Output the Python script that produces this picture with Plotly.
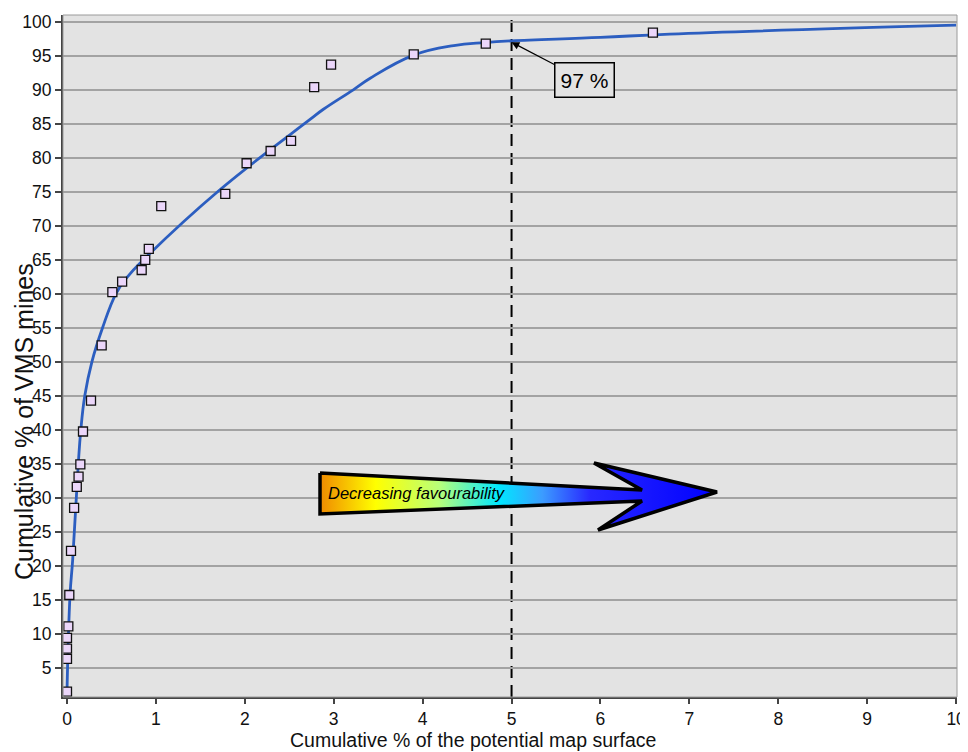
import plotly.graph_objects as go

# ---- data ----
mines_x = [0.0, 0.0, 0.0, 0.0, 0.015, 0.026, 0.045, 0.08, 0.11, 0.13, 0.15, 0.18,
           0.27, 0.39, 0.51, 0.62, 0.84, 0.88, 0.92, 1.06, 1.78, 2.02, 2.29, 2.52,
           2.78, 2.97, 3.90, 4.71, 6.59]
mines_y = [1.5, 6.3, 7.8, 9.4, 11.1, 15.7, 22.2, 28.5, 31.6, 33.1, 34.9, 39.75,
           44.3, 52.4, 60.25, 61.8, 63.5, 65.0, 66.6, 72.9, 74.7, 79.2, 81.0, 82.5,
           90.4, 93.7, 95.2, 96.8, 98.4]

curve_x = [0.0, 0.034, 0.064, 0.127, 0.154, 0.20, 0.28, 0.40, 0.55, 0.68, 0.86, 1.72,
           2.73, 2.88, 3.22, 3.41, 3.9, 4.35, 4.7, 5.0, 6.0, 6.78, 10.0]
curve_y = [1.5, 15.7, 20.9, 35.0, 39.75, 45.0, 50.0, 55.0, 60.0, 62.5, 65.0, 75.3,
           85.6, 87.1, 90.0, 91.7, 95.1, 96.5, 96.95, 97.2, 97.7, 98.2, 99.5]

x_ticks = [0, 1, 2, 3, 4, 5, 6, 7, 8, 9, 10]
y_ticks = list(range(5, 101, 5))

threshold_x = 5
threshold_y = 97
threshold_label = "97 %"
arrow_label = "Decreasing favourability"
x_title = "Cumulative % of the potential map surface"
y_title = "Cumulative % of VMS mines"

# decorative arrow outline, in an overlay frame measured in page pixels
arrow_px_x = [320, 642, 594, 717, 598, 642, 320, 320]
arrow_px_y = [473, 490, 463, 492, 530, 501, 514, 473]

# the page adds an 8px body margin; figure is sized to compensate
PAGE_OFF = 8
W, H = 968 - PAGE_OFF, 752 - PAGE_OFF
PL, PR, PT, PB = 63, 957, 15, 697          # plot area in page pixels
L, R, T, B = PL - PAGE_OFF, PR - PAGE_OFF, PT - PAGE_OFF, PB - PAGE_OFF


def paper_x(px):
    return (px - PL) / (PR - PL)


def paper_y(py):
    return (PB - py) / (PB - PT)


fig = go.Figure()

fig.add_trace(go.Scatter(
    x=curve_x, y=curve_y, mode="lines",
    line=dict(color="#2C5EC0", width=2.8, shape="spline", smoothing=1.2),
    hoverinfo="skip", showlegend=False))

fig.add_trace(go.Scatter(
    x=mines_x, y=mines_y, mode="markers",
    marker=dict(symbol="square", size=9, color="#EBD6FA",
                line=dict(color="#111111", width=1.3)),
    showlegend=False))

fig.add_trace(go.Scatter(
    x=arrow_px_x, y=arrow_px_y, xaxis="x2", yaxis="y2",
    mode="lines", fill="toself",
    line=dict(color="black", width=3.5),
    fillgradient=dict(type="horizontal", colorscale=[
        [0.0, "#F08A00"], [0.14, "#FFFF00"], [0.30, "#B8FF7A"],
        [0.45, "#00E8FF"], [0.56, "#3C9CFF"], [0.68, "#2828FF"], [1.0, "#0000FF"]]),
    hoverinfo="skip", showlegend=False))

fig.add_shape(type="line", x0=threshold_x, x1=threshold_x, y0=0, y1=1,
              xref="x", yref="paper", layer="below",
              line=dict(color="black", width=2, dash="12px,7px"))

fig.add_annotation(x=threshold_x, y=threshold_y, xref="x", yref="y",
                   text=threshold_label, showarrow=True, ax=73, ay=38,
                   arrowhead=2, arrowsize=1.3, arrowwidth=1.2, arrowcolor="black",
                   bordercolor="black", borderwidth=1.5, borderpad=5,
                   bgcolor="#E3E3E3",
                   font=dict(family="Liberation Sans, Arial", size=21, color="black"))

fig.add_annotation(x=paper_x(417), y=paper_y(493), xref="paper", yref="paper",
                   xanchor="center", yanchor="middle",
                   text="<i>" + arrow_label + "</i>", showarrow=False,
                   font=dict(family="Liberation Sans, Arial", size=16.5, color="black"))

# axis titles placed via page-pixel positions
fig.add_annotation(x=paper_x(473), y=paper_y(740), xref="paper", yref="paper",
                   xanchor="center", yanchor="middle",
                   text=x_title, showarrow=False,
                   font=dict(family="Liberation Sans, Arial", size=19.5, color="#111111"))
fig.add_annotation(x=paper_x(24), y=paper_y(422), xref="paper", yref="paper",
                   xanchor="center", yanchor="middle",
                   text=y_title, showarrow=False, textangle=-90,
                   font=dict(family="Liberation Sans, Arial", size=25, color="#111111"))

fig.add_shape(type="rect", xref="paper", yref="paper", x0=0, x1=1, y0=0, y1=1,
              line=dict(color="#9A9A9A", width=1), layer="above")

tick_font = dict(family="Liberation Sans, Arial", size=17.5, color="#111111")

fig.update_layout(
    width=W, height=H,
    margin=dict(l=L, r=W - R, t=T, b=H - B, autoexpand=False),
    paper_bgcolor="white", plot_bgcolor="#E3E3E3",
    xaxis=dict(range=[-0.045, 10.01], tickvals=x_ticks, showgrid=False,
               zeroline=False, showline=True, linecolor="#444444", linewidth=2,
               ticks="outside", ticklen=5, tickcolor="#444444", tickwidth=1.5,
               tickfont=tick_font),
    yaxis=dict(range=[0.7, 101], tickvals=y_ticks, showgrid=True,
               gridcolor="#A3A3A3", gridwidth=1.6,
               zeroline=False, showline=True, linecolor="#444444", linewidth=2,
               ticks="outside", ticklen=6, tickcolor="#444444", tickwidth=1.5,
               tickfont=tick_font),
    xaxis2=dict(range=[PL, PR], overlaying="x", visible=False, fixedrange=True),
    yaxis2=dict(range=[PB, PT], overlaying="y", visible=False, fixedrange=True),
)

fig.write_html("out.html")
